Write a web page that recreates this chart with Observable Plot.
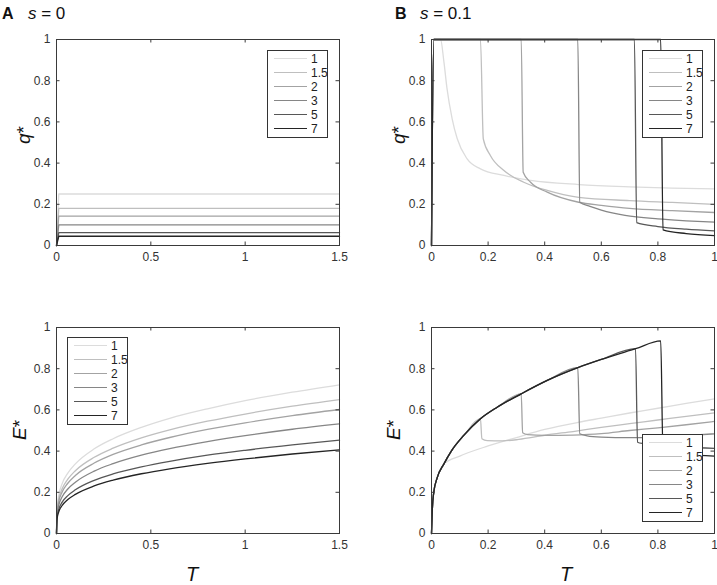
<!DOCTYPE html>
<html>
<head>
<meta charset="utf-8">
<script src="https://cdn.jsdelivr.net/npm/d3@7"></script>
<script src="https://cdn.jsdelivr.net/npm/@observablehq/plot@0.6"></script>
<style>
  body { margin: 0; background: #fff; font-family: "Liberation Sans", Arial, sans-serif; }
  #wrap { position: relative; width: 717px; height: 585px; overflow: hidden; background: #fff; }
  .panel { position: absolute; }
  .txt { position: absolute; color: #111; white-space: nowrap; line-height: 1; }
  .rot { transform: translate(-50%, -50%) rotate(-90deg); }
  .ctr { transform: translate(-50%, -50%); }
  .legend { position: absolute; border: 1px solid #333; background: #fff; box-sizing: border-box; width: 61px; height: 88px; }
  .legend .sw { position: absolute; left: 6px; width: 33px; height: 0; }
  .legend .lab { position: absolute; left: 43px; font-size: 12px; color: #222; line-height: 1; transform: translateY(-50%); }
</style>
</head>
<body>
<div id="wrap"></div>
<script>
// ---------- series names, colours ----------
const seriesNames = ["1", "1.5", "2", "3", "5", "7"];
const grays = ["#dcdcdc", "#bfbfbf", "#a3a3a3", "#868686", "#575757", "#242424"];

// ---------- tick values ----------
const yTicks = [0, 0.2, 0.4, 0.6, 0.8, 1];
const xTicksA = [0, 0.5, 1, 1.5];
const xTicksB = [0, 0.2, 0.4, 0.6, 0.8, 1];

// ---------- Panel A, q* (s = 0) ----------
const qA_T = [0, 0.012, 1.5];
const qA_1 = [0, 0.25, 0.25];
const qA_15 = [0, 0.18, 0.18];
const qA_2 = [0, 0.143, 0.143];
const qA_3 = [0, 0.1, 0.1];
const qA_5 = [0, 0.0625, 0.0625];
const qA_7 = [0, 0.045, 0.045];

// ---------- Panel A, E* (s = 0) ----------
const EA_T = [0, 0.003, 0.01, 0.03, 0.06, 0.1, 0.2, 0.3, 0.45, 0.6, 0.8, 1.0, 1.25, 1.5];
const EA_1 = [0, 0.127, 0.177, 0.242, 0.293, 0.338, 0.411, 0.460, 0.515, 0.559, 0.605, 0.645, 0.686, 0.722];
const EA_15 = [0, 0.114, 0.160, 0.217, 0.264, 0.305, 0.370, 0.414, 0.464, 0.503, 0.545, 0.580, 0.618, 0.650];
const EA_2 = [0, 0.106, 0.148, 0.201, 0.244, 0.282, 0.342, 0.384, 0.430, 0.466, 0.505, 0.537, 0.572, 0.602];
const EA_3 = [0, 0.093, 0.131, 0.178, 0.216, 0.249, 0.303, 0.339, 0.380, 0.412, 0.446, 0.475, 0.506, 0.532];
const EA_5 = [0, 0.080, 0.111, 0.152, 0.184, 0.212, 0.258, 0.289, 0.323, 0.350, 0.380, 0.404, 0.430, 0.453];
const EA_7 = [0, 0.071, 0.100, 0.136, 0.165, 0.190, 0.231, 0.259, 0.290, 0.314, 0.340, 0.362, 0.386, 0.406];

// ---------- Panel B, q* (s = 0.1) : [T, q] ----------
const qB_1 = [[0,0],[0.008,1],[0.032,1],[0.044,0.89],[0.055,0.76],[0.073,0.615],[0.091,0.518],[0.126,0.42],[0.173,0.372],[0.256,0.34],[0.35,0.316],[0.52,0.296],[0.7,0.285],[0.85,0.279],[1,0.275]];
const qB_15 = [[0,0],[0.008,1],[0.173,1],[0.183,0.518],[0.208,0.437],[0.256,0.364],[0.326,0.307],[0.409,0.267],[0.52,0.234],[0.7,0.218],[0.85,0.209],[1,0.2]];
const qB_2 = [[0,0],[0.008,1],[0.317,1],[0.324,0.356],[0.35,0.307],[0.409,0.259],[0.52,0.21],[0.6,0.195],[0.7,0.18],[0.85,0.169],[1,0.16]];
const qB_3 = [[0,0],[0.008,1],[0.517,1],[0.524,0.21],[0.56,0.19],[0.6,0.172],[0.684,0.146],[0.8,0.129],[0.9,0.12],[1,0.113]];
const qB_5 = [[0,0],[0.008,1],[0.717,1],[0.725,0.111],[0.8,0.092],[0.9,0.079],[1,0.071]];
const qB_7 = [[0,0],[0.008,1],[0.81,1],[0.818,0.076],[0.9,0.058],[1,0.048]];

// ---------- Panel B, E* (s = 0.1) : shared rising branch + tails ----------
const EB_env = [[0,0],[0.003,0.12],[0.008,0.2],[0.02,0.27],[0.044,0.338],[0.07,0.4],[0.114,0.476],[0.173,0.557],[0.232,0.613],[0.317,0.678],[0.409,0.743],[0.517,0.805],[0.6,0.845],[0.721,0.897],[0.81,0.935]];
const EB_1_tail = [[0.1,0.376],[0.2,0.425],[0.3,0.466],[0.4,0.505],[0.52,0.54],[0.6,0.56],[0.7,0.585],[0.8,0.608],[0.9,0.632],[1,0.654]];
const EB_15_tail = [[0.178,0.46],[0.197,0.451],[0.25,0.45],[0.3,0.455],[0.35,0.465],[0.4,0.477],[0.5,0.495],[0.6,0.515],[0.7,0.533],[0.8,0.551],[0.9,0.569],[1,0.586]];
const EB_2_tail = [[0.322,0.489],[0.34,0.48],[0.4,0.476],[0.5,0.478],[0.6,0.485],[0.7,0.5],[0.8,0.513],[0.9,0.528],[1,0.544]];
const EB_3_tail = [[0.524,0.484],[0.55,0.474],[0.6,0.468],[0.7,0.465],[0.8,0.468],[0.9,0.475],[1,0.484]];
const EB_5_tail = [[0.728,0.443],[0.75,0.436],[0.8,0.43],[0.9,0.42],[1,0.413]];
const EB_7_tail = [[0.818,0.395],[0.9,0.383],[1,0.376]];
const EB_switch = [0.044, 0.173, 0.317, 0.517, 0.721, 0.81];

// ---------- build tables ----------
const rowsFromArrays = (T, lists) => lists.flatMap((vals, i) => vals.map((v, j) => ({T: T[j], v, s: seriesNames[i]})));
const rowsFromPairs = (lists) => lists.flatMap((pairs, i) => pairs.map(([T, v]) => ({T, v, s: seriesNames[i]})));

const dataQA = rowsFromArrays(qA_T, [qA_1, qA_15, qA_2, qA_3, qA_5, qA_7]);
const dataEA = rowsFromArrays(EA_T, [EA_1, EA_15, EA_2, EA_3, EA_5, EA_7]);
const dataQB = rowsFromPairs([qB_1, qB_15, qB_2, qB_3, qB_5, qB_7]);
const tails = [EB_1_tail, EB_15_tail, EB_2_tail, EB_3_tail, EB_5_tail, EB_7_tail];
const dataEB = rowsFromPairs(tails.map((tail, i) => EB_env.filter(d => d[0] <= EB_switch[i]).concat(tail)));

// ---------- panel factory ----------
function panel({data, xDomain, xTicks, width, height, ml, mr, mt, mb, curve}) {
  const iw = width - ml - mr, ih = height - mt - mb;
  const tl = 3.5;
  const tx = tl / iw * (xDomain[1] - xDomain[0]);
  const ty = tl / ih;
  const innerX = xTicks.filter(d => d > xDomain[0] && d < xDomain[1]);
  const innerY = yTicks.filter(d => d > 0 && d < 1);
  const fmt = d => String(d);
  return Plot.plot({
    width, height,
    marginLeft: ml, marginRight: mr, marginTop: mt, marginBottom: mb,
    x: {domain: xDomain},
    y: {domain: [0, 1]},
    color: {type: "ordinal", domain: seriesNames, range: grays},
    style: {background: "transparent", overflow: "visible", fontFamily: "'Liberation Sans', Arial, sans-serif", fontSize: "12px"},
    marks: [
      Plot.line(data, {x: "T", y: "v", z: "s", stroke: "s", strokeWidth: 1.3, curve: curve || "linear"}),
      Plot.frame({stroke: "#3a3a3a", strokeWidth: 1}),
      Plot.ruleX(innerX, {x: d => d, y1: 0, y2: ty, stroke: "#3a3a3a"}),
      Plot.ruleX(innerX, {x: d => d, y1: 1, y2: 1 - ty, stroke: "#3a3a3a"}),
      Plot.ruleY(innerY, {y: d => d, x1: xDomain[0], x2: xDomain[0] + tx, stroke: "#3a3a3a"}),
      Plot.ruleY(innerY, {y: d => d, x1: xDomain[1], x2: xDomain[1] - tx, stroke: "#3a3a3a"}),
      Plot.axisX(xTicks, {tickSize: 0, tickPadding: 7, tickFormat: fmt, label: null, fill: "#333"}),
      Plot.axisY(yTicks, {tickSize: 0, tickPadding: 6, tickFormat: fmt, label: null, fill: "#333"})
    ]
  });
}

const wrap = document.getElementById("wrap");
function place(el, left, top) {
  const d = document.createElement("div");
  d.className = "panel";
  d.style.left = left + "px";
  d.style.top = top + "px";
  d.appendChild(el);
  wrap.appendChild(d);
}

place(panel({data: dataQA, xDomain: [0, 1.5], xTicks: xTicksA, width: 358, height: 290, ml: 56, mr: 19, mt: 39, mb: 45}), 0, 0);
place(panel({data: dataQB, xDomain: [0, 1], xTicks: xTicksB, width: 359, height: 290, ml: 73, mr: 3, mt: 39, mb: 45, curve: "monotone-x"}), 358, 0);
place(panel({data: dataEA, xDomain: [0, 1.5], xTicks: xTicksA, width: 358, height: 295, ml: 56, mr: 19, mt: 37, mb: 52, curve: "monotone-x"}), 0, 290);
place(panel({data: dataEB, xDomain: [0, 1], xTicks: xTicksB, width: 359, height: 295, ml: 73, mr: 3, mt: 37, mb: 52, curve: "monotone-x"}), 358, 290);

// ---------- text ----------
function text(html, left, top, cls, size, extra) {
  const d = document.createElement("div");
  d.className = "txt " + (cls || "");
  d.style.left = left + "px";
  d.style.top = top + "px";
  d.style.fontSize = size + "px";
  if (extra) Object.assign(d.style, extra);
  d.innerHTML = html;
  wrap.appendChild(d);
}
text("A", 2, 6, "", 16, {fontWeight: "bold"});
text("<i>s</i> = 0", 28, 5, "", 17);
text("B", 395, 6, "", 16, {fontWeight: "bold"});
text("<i>s</i> = 0.1", 420, 5, "", 17);

text("<i>q</i>*", 23, 135, "rot", 19);
text("<i>q</i>*", 398, 135, "rot", 19);
text("<i>E</i>*", 19, 430, "rot", 19);
text("<i>E</i>*", 393, 430, "rot", 19);
text("<i>T</i>", 192, 574, "ctr", 20);
text("<i>T</i>", 566, 574, "ctr", 20);

// ---------- legends ----------
function legend(left, top) {
  const box = document.createElement("div");
  box.className = "legend";
  box.style.left = left + "px";
  box.style.top = top + "px";
  seriesNames.forEach((name, i) => {
    const cy = 8 + i * 14;
    const sw = document.createElement("div");
    sw.className = "sw";
    sw.style.top = (cy - 0.75) + "px";
    sw.style.borderTop = "1.5px solid " + grays[i];
    box.appendChild(sw);
    const lab = document.createElement("div");
    lab.className = "lab";
    lab.style.top = cy + "px";
    lab.textContent = name;
    box.appendChild(lab);
  });
  wrap.appendChild(box);
}
legend(267, 50);
legend(642, 50);
legend(67, 337);
legend(642, 434);
</script>
</body>
</html>
